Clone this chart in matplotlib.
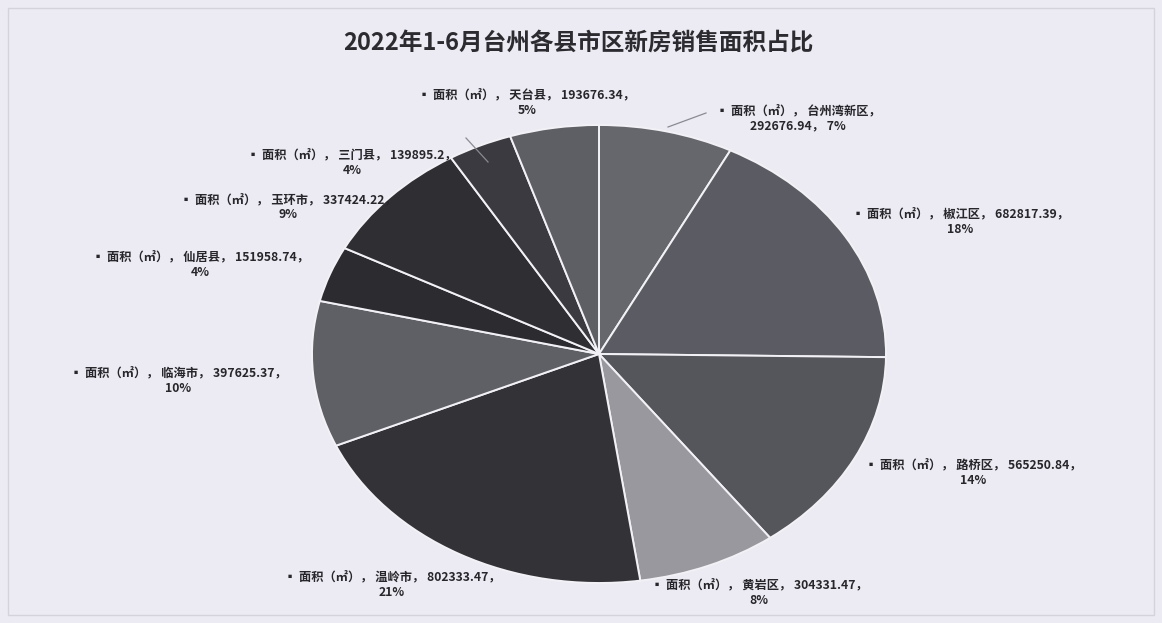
import matplotlib
matplotlib.use("Agg")
import matplotlib.pyplot as plt
from matplotlib.patches import Rectangle

plt.rcParams['font.family'] = ['Noto Sans CJK SC', 'DejaVu Sans']

title = "2022年1-6月台州各县市区新房销售面积占比"
series_name = "面积（㎡）"
districts = ["台州湾新区", "椒江区", "路桥区", "黄岩区", "温岭市",
             "临海市", "仙居县", "玉环市", "三门县", "天台县"]
areas = [292676.94, 682817.39, 565250.84, 304331.47, 802333.47,
         397625.37, 151958.74, 337424.22, 139895.2, 193676.34]
percent_labels = ["7%", "18%", "14%", "8%", "21%", "10%", "4%", "9%", "4%", "5%"]
area_labels = ["292676.94", "682817.39", "565250.84", "304331.47", "802333.47",
               "397625.37", "151958.74", "337424.22", "139895.2", "193676.34"]

colors = ["#66666d", "#5b5b63", "#55555c", "#98989e", "#323237",
          "#5f5f66", "#2b2b30", "#2e2e33", "#3a3a40", "#5e5e65"]

W, H = 1162, 623
fig = plt.figure(figsize=(W / 100, H / 100), dpi=100)
fig.patch.set_facecolor("#ecebf3")

# pie area (pixels): x 312..886, y 125..583 -> slightly stretched ellipse
left, right, top, bottom = 312, 886, 125, 583
ax = fig.add_axes([left / W, 1 - bottom / H, (right - left) / W, (bottom - top) / H])
ax.pie(areas, colors=colors, startangle=90, counterclock=False,
       wedgeprops=dict(edgecolor="#f2f2f6", linewidth=1.4))
ax.set_aspect("auto")
ax.set_xlim(-1, 1)
ax.set_ylim(-1, 1)
ax.axis("off")

# label centres (pixels) for the first text line
label_pos = [(798, 104), (960, 207), (973, 458), (759, 578), (392, 570),
             (178, 366), (200, 250), (288, 193), (352, 148), (527, 88)]
# labels wrapped after the name rather than after the value
wrap_after_name = {"台州湾新区"}

for name, val, pct, (px, py) in zip(districts, area_labels, percent_labels, label_pos):
    if name in wrap_after_name:
        txt = f"▪ {series_name}， {name}，\n{val}， {pct}"
    else:
        txt = f"▪ {series_name}， {name}， {val}，\n{pct}"
    fig.text(px / W, 1 - py / H, txt,
             ha="center", va="top", fontsize=8.8, fontweight="bold",
             color="#26262b", linespacing=1.25)

# leader lines
leaders = [((706, 113), (668, 127)), ((466, 138), (488, 162))]
for (x0, y0), (x1, y1) in leaders:
    fig.add_artist(plt.Line2D([x0 / W, x1 / W], [1 - y0 / H, 1 - y1 / H],
                              transform=fig.transFigure, color="#8a8a92", linewidth=0.9))

fig.text(578 / W, 1 - 43 / H, title, ha="center", va="center",
         fontsize=17, fontweight="bold", color="#2b2b30")

# outer frame
fig.add_artist(Rectangle((8 / W, 8 / H), 1 - 16 / W, 1 - 16 / H,
                         transform=fig.transFigure, fill=False,
                         edgecolor="#d4d3dc", linewidth=1.0))

fig.savefig("out.png", dpi=100, facecolor=fig.get_facecolor())
